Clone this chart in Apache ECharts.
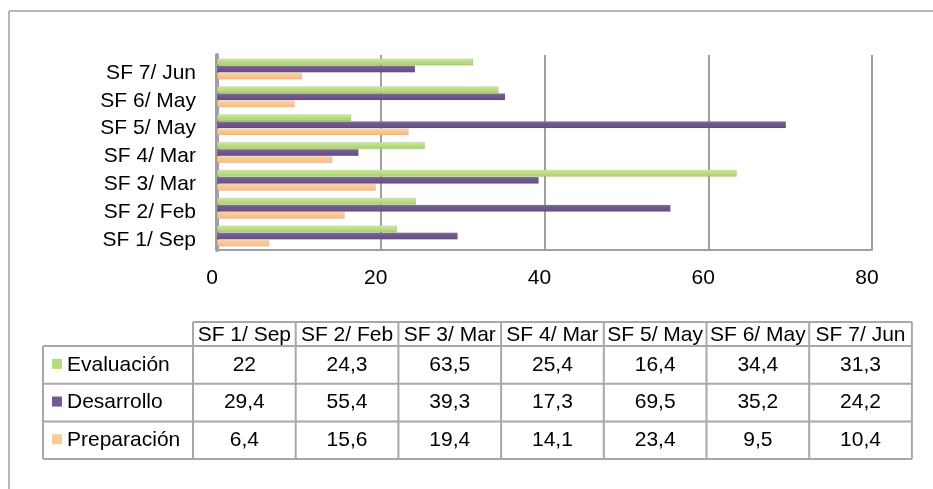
<!DOCTYPE html>
<html>
<head>
<meta charset="utf-8">
<style>
html,body{margin:0;padding:0;background:#fff;}
#chart{width:933px;height:489px;}
</style>
<script src="https://cdn.jsdelivr.net/npm/echarts@6/dist/echarts.min.js"></script>
</head>
<body>
<div id="chart"></div>
<script>
var categories = ['SF 1/ Sep','SF 2/ Feb','SF 3/ Mar','SF 4/ Mar','SF 5/ May','SF 6/ May','SF 7/ Jun'];
var evaluacion = [22, 24.3, 63.5, 25.4, 16.4, 34.4, 31.3];
var desarrollo = [29.4, 55.4, 39.3, 17.3, 69.5, 35.2, 24.2];
var preparacion = [6.4, 15.6, 19.4, 14.1, 23.4, 9.5, 10.4];
var xTicks = [0, 20, 40, 60, 80];

var colors = {
  'Evaluación': '#b6dc7f',
  'Desarrollo': '#735a8e',
  'Preparación': '#fcc999'
};
var gradients = {
  'Evaluación': new echarts.graphic.LinearGradient(0,0,0,1,[{offset:0,color:'#d2e9ae'},{offset:0.3,color:'#bfe18c'},{offset:1,color:'#a8d06c'}]),
  'Desarrollo': new echarts.graphic.LinearGradient(0,0,0,1,[{offset:0,color:'#8a74a3'},{offset:0.3,color:'#735a8e'},{offset:1,color:'#654e80'}]),
  'Preparación': new echarts.graphic.LinearGradient(0,0,0,1,[{offset:0,color:'#fedcbc'},{offset:0.3,color:'#fcc999'},{offset:1,color:'#f5bb85'}])
};

var tableRows = [
  {name: 'Evaluación', values: evaluacion},
  {name: 'Desarrollo', values: desarrollo},
  {name: 'Preparación', values: preparacion}
];

function fmt(v){ return String(v).replace('.', ','); }

var fontFamily = '"Liberation Sans", Arial, sans-serif';
var colX0 = 193, colW = 102.7, legendX0 = 43;
var headerTop = 322, headerBottom = 346, rowH = 37.7;
var lineColor = '#a8a8a8';
var font = '21px ' + fontFamily;

var graphics = [];
graphics.push({type:'line', shape:{x1:9,y1:11,x2:933,y2:11}, style:{stroke:'#a0a0a0', lineWidth:1.5}});
graphics.push({type:'line', shape:{x1:9,y1:11,x2:9,y2:489}, style:{stroke:'#a0a0a0', lineWidth:1.5}});

var tableBottom = headerBottom + rowH * tableRows.length;
var tableRight = colX0 + colW * categories.length;
graphics.push({type:'line', shape:{x1:colX0,y1:headerTop,x2:tableRight,y2:headerTop}, style:{stroke:lineColor,lineWidth:2}});
for (var r = 0; r <= tableRows.length; r++) {
  var yy = headerBottom + rowH * r;
  graphics.push({type:'line', shape:{x1:legendX0,y1:yy,x2:tableRight,y2:yy}, style:{stroke:lineColor,lineWidth:2}});
}
graphics.push({type:'line', shape:{x1:legendX0,y1:headerBottom,x2:legendX0,y2:tableBottom}, style:{stroke:lineColor,lineWidth:2}});
for (var c = 0; c <= categories.length; c++) {
  var xx = colX0 + colW * c;
  graphics.push({type:'line', shape:{x1:xx,y1:headerTop,x2:xx,y2:tableBottom}, style:{stroke:lineColor,lineWidth:2}});
}
categories.forEach(function(cat, i){
  graphics.push({type:'text', x: colX0 + colW*i + colW/2, y:(headerTop+headerBottom)/2 + 1,
    style:{text:cat, font:font, fill:'#000', align:'center', verticalAlign:'middle'}});
});
tableRows.forEach(function(row, r){
  var cy = headerBottom + rowH*r + rowH/2;
  graphics.push({type:'rect', shape:{x:52, y:cy-6, width:10, height:10}, style:{fill:colors[row.name]}});
  graphics.push({type:'text', x:67, y:cy, style:{text:row.name, font:font, fill:'#000', align:'left', verticalAlign:'middle'}});
  row.values.forEach(function(v, i){
    graphics.push({type:'text', x: colX0 + colW*i + colW/2, y:cy,
      style:{text:fmt(v), font:font, fill:'#000', align:'center', verticalAlign:'middle'}});
  });
});

var seriesOrder = [
  {name:'Evaluación', data: evaluacion},
  {name:'Desarrollo', data: desarrollo},
  {name:'Preparación', data: preparacion}
];

var chart = echarts.init(document.getElementById('chart'), null, {renderer:'canvas'});
chart.setOption({
  animation: false,
  backgroundColor: '#fff',
  grid: {left: 217, right: 61, top: 55, bottom: 239, containLabel: false},
  xAxis: {
    type: 'value', min: xTicks[0], max: xTicks[xTicks.length-1], interval: 20,
    axisLine: {show: true, lineStyle: {color: '#a0a0a0', width: 2}},
    axisTick: {show: false},
    splitLine: {show: true, lineStyle: {color: '#a0a0a0', width: 2}},
    axisLabel: {color:'#000', fontSize:21, fontFamily:fontFamily, margin: 18, padding:[0,10,0,0]}
  },
  yAxis: {
    type: 'category', data: categories,
    axisLine: {show: true, lineStyle: {color: '#a0a0a0', width: 4}},
    axisTick: {show: false},
    axisLabel: {
      color:'#000', fontSize:21, fontFamily:fontFamily, margin: 21,
      formatter: function(v){ return '{a|' + v + '}'; },
      rich: {a: {color:'#000', fontSize:21, fontFamily:fontFamily, padding:[8,0,0,0]}}
    }
  },
  series: seriesOrder.map(function(s){
    return {
      name: s.name, type: 'bar', data: s.data,
      barWidth: 7, barGap: '0%',
      itemStyle: {color: gradients[s.name], borderColor: 'rgba(0,0,0,0.12)', borderWidth: 0.5}
    };
  }),
  graphic: graphics
});
</script>
</body>
</html>
